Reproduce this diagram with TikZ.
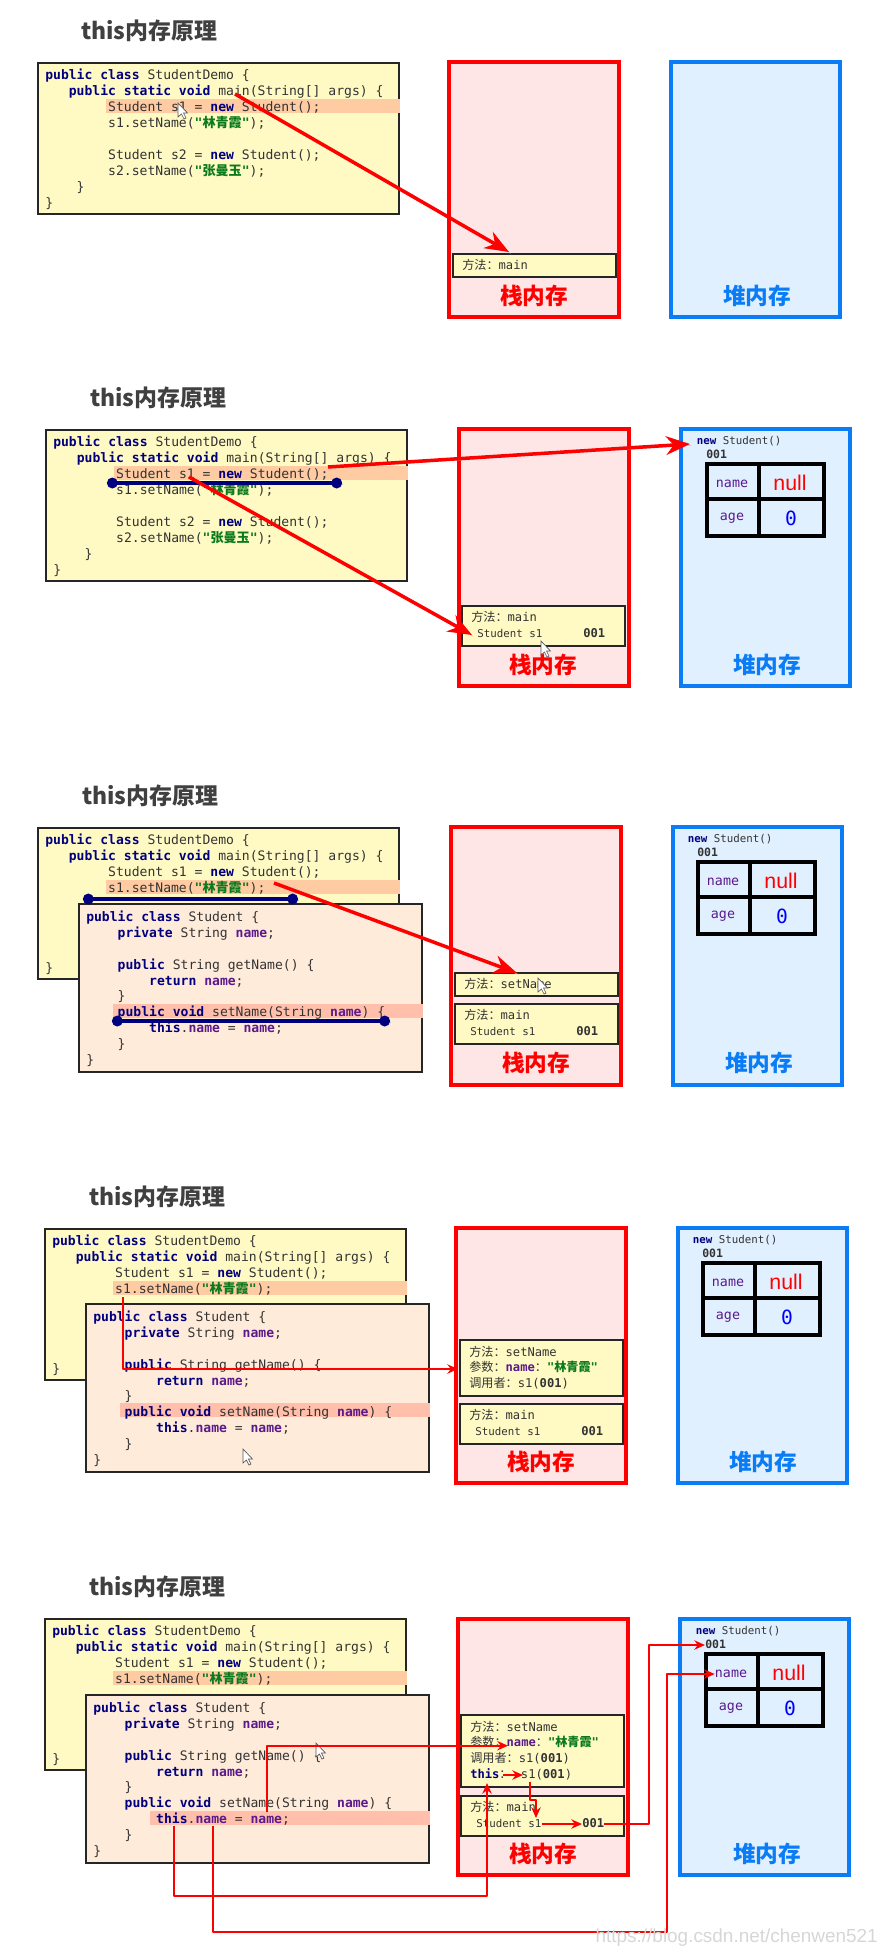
\documentclass[tikz,border=0pt]{standalone}
\usepackage{fontspec}
\usepackage{tikz}
\usetikzlibrary{arrows.meta}
\setmonofont{DejaVu Sans Mono}
\newfontfamily\cjkfont{Noto Sans CJK SC}
\newfontfamily\labelfont{Liberation Sans}
\definecolor{codeyellow}{HTML}{FFFAC4}
\definecolor{codepeach}{HTML}{FFEBDA}
\definecolor{hlorange}{HTML}{FFCBA2}
\definecolor{hlpink}{HTML}{FFBFAA}
\definecolor{stackfill}{HTML}{FFE6E6}
\definecolor{heapfill}{HTML}{E1F0FF}
\definecolor{heapblue}{HTML}{0A7CF5}
\definecolor{kwnavy}{HTML}{00007F}
\definecolor{fieldpurple}{HTML}{5A1A8C}
\definecolor{strgreen}{HTML}{0B7A1E}
\newcommand{\px}{0.75pt}
\newlength{\cw}
\setlength{\cw}{5.9pt}
\newcommand{\ind}[1]{\hspace*{#1\cw}}
\newcommand{\kwd}[1]{\textcolor{kwnavy}{\textbf{#1}}}
\newcommand{\fld}[1]{\textcolor{fieldpurple}{\textbf{#1}}}
\newcommand{\strg}[1]{\textcolor{strgreen}{\textbf{"{\cjkfont #1}"}}}
\newcommand{\fwcolon}{{\cjkfont\symbol{"FF1A}}}
\newcommand{\democode}{\strut\kwd{public class} StudentDemo \{\\
\ind{3}\kwd{public static void} main(String[] args) \{\\
\ind{8}Student s1 = \kwd{new} Student();\\
\ind{8}s1.setName(\strg{林青霞});\\
\mbox{}\\
\ind{8}Student s2 = \kwd{new} Student();\\
\ind{8}s2.setName(\strg{张曼玉});\\
\ind{4}\}\\
\}}
\newcommand{\demofront}{\strut\kwd{public class} StudentDemo \{\\
\ind{3}\kwd{public static void} main(String[] args) \{\\
\ind{8}Student s1 = \kwd{new} Student();\\
\ind{8}s1.setName(\strg{林青霞});\\
\mbox{}\\
\mbox{}\\
\mbox{}\\
\mbox{}\\
\}}
\newcommand{\studentcode}{\strut\kwd{public class} Student \{\\
\ind{4}\kwd{private} String \fld{name};\\
\mbox{}\\
\ind{4}\kwd{public} String getName() \{\\
\ind{8}\kwd{return} \fld{name};\\
\ind{4}\}\\
\ind{4}\kwd{public void} setName(String \fld{name}) \{\\
\ind{8}\kwd{this}.\fld{name} = \fld{name};\\
\ind{4}\}\\
\}}
\tikzset{
	pics/demo/.style={code={
		\node[boxbase, fill=codeyellow, minimum width=361*\px, minimum height=151*\px] (-box) at (0,0) {};
		\node[hlbar, fill=hlorange, minimum width=294*\px] (-hl) at (69,37) {};
		\node[codetext] (-code) at (8,6.4) {\democode};
	}},
	pics/demoback/.style={code={
		\node[boxbase, fill=codeyellow, minimum width=361*\px, minimum height=151*\px] (-box) at (0,0) {};
		\node[hlbar, fill=hlorange, minimum width=294*\px] (-hl) at (69,53) {};
		\node[codetext] (-code) at (8,6.4) {\demofront};
	}},
	pics/student/.style 2 args={code={
		\node[boxbase, fill=codepeach, minimum width=343*\px, minimum height=168*\px] (-box) at (0,0) {};
		\node[hlbar, fill=hlpink, minimum width=(345-#1)*\px] (-hl) at (#1,#2) {};
		\node[codetext] (-code) at (8,7) {\studentcode};
	}},
	pics/studentobj/.style={code={
		\node[memrow, font=\ttfamily\fontsize{8.1}{10}\selectfont] (-new) at (15.6,14) {\kwd{new} Student()};
		\node[memrow, font=\ttfamily\bfseries\fontsize{8.6}{10}\selectfont] (-id) at (25,28) {001};
		\node[anchor=north west, draw, line width=3.5*\px, inner sep=0pt, minimum width=117*\px, minimum height=72*\px] (-tab) at (24,35) {};
		\draw[line width=3.5*\px] (78,35) -- (78,110);
		\draw[line width=3.5*\px] (24,72) -- (144,72);
		\node[cellname] (-name) at (51,57) {name};
		\node[cellname] (-age) at (51,91) {age};
		\node[inner sep=0pt, red, font=\labelfont\fontsize{16}{18}\selectfont] (-null) at (109,56) {null};
		\node[inner sep=0pt, blue, font=\ttfamily\fontsize{14.7}{16}\selectfont] (-zero) at (110,91) {0};
	}},
	pics/mainframe/.style={code={
		\node[framebox, minimum height=40*\px] (-box) at (0,0) {};
		\node[memrow] (-m) at (10,13) {{\cjkfont 方法}\fwcolon main};
		\node[memrow, font=\ttfamily\fontsize{8.1}{10}\selectfont] (-s1) at (16,29) {Student s1};
		\node[memrow, font=\ttfamily\bfseries\fontsize{9.1}{10}\selectfont] (-id) at (122,29) {001};
	}},
	pics/cursor/.style={code={
		\draw[black!65, fill=white, line width=0.5pt] (0,0) -- (0,14) -- (3.5,11) -- (6,16) -- (8,15) -- (5.5,10) -- (9.5,10) -- cycle;
	}}
}
\begin{document}
\begin{tikzpicture}[x=0.75pt, y=-0.75pt,
	boxbase/.style={draw=black!85, line width=2*\px, anchor=north west, inner sep=0pt},
	hlbar/.style={anchor=north west, inner sep=0pt, outer sep=0pt, minimum height=14*\px},
	codetext/.style={anchor=north west, inner sep=0pt, align=left, text=black!80, font=\ttfamily\fontsize{9.8}{11.93}\selectfont},
	stackbox/.style={draw=red, fill=stackfill, line width=4*\px, anchor=north west, inner sep=0pt, minimum width=170*\px},
	heapbox/.style={draw=heapblue, fill=heapfill, line width=4*\px, anchor=north west, inner sep=0pt, minimum width=169*\px},
	framebox/.style={draw=black!85, fill=codeyellow, line width=2*\px, anchor=north west, inner sep=0pt, minimum width=163*\px},
	memrow/.style={anchor=west, inner sep=0pt, text=black!80, text height=7pt, text depth=2pt, font=\ttfamily\fontsize{9.1}{11}\selectfont},
	cellname/.style={inner sep=0pt, text=fieldpurple, font=\ttfamily\fontsize{10}{12}\selectfont},
	pagetitle/.style={anchor=west, inner sep=0pt, text=black!75, font=\cjkfont\bfseries\fontsize{17.2}{20}\selectfont},
	memlabel/.style={inner sep=0pt, font=\cjkfont\bfseries\fontsize{17}{20}\selectfont},
	fatarrow/.style={draw=red, line width=3.5*\px, -{Stealth[length=18pt,width=14pt]}, preaction={draw=black!22, -, transform canvas={shift={(1pt,-1pt)}}}},
	blueline/.style={draw=kwnavy, line width=4*\px, {Circle[length=8pt]}-{Circle[length=8pt]}, preaction={draw=black!22, -, transform canvas={shift={(1pt,-1pt)}}}},
	wire/.style={draw=red, line width=2*\px, line join=round},
	wirearrow/.style={wire, -{Stealth[length=8pt,width=7pt]}}]
	\useasboundingbox (0,0) rectangle (886,1956);

	% first step
	\node[pagetitle] (title1) at (81,31) {this内存原理};
	\pic (demo1) at (37,62) {demo};
	\node[stackbox, minimum height=255*\px] (stack1) at (447,60) {};
	\node[heapbox, minimum height=255*\px] (heap1) at (669,60) {};
	\node[framebox, minimum height=23*\px] (main1) at (452,253) {};
	\node[memrow] (main1m) at (462,266) {{\cjkfont 方法}\fwcolon main};
	\node[memlabel, red] (stackname1) at (534,296) {栈内存};
	\node[memlabel, heapblue] (heapname1) at (757,296) {堆内存};
	\pic at (178,103) {cursor};
	\coordinate (p1a) at (235,94);
	\coordinate (p1b) at (509,252);
	\draw[fatarrow] (p1a) -- (p1b);

	% second step
	\node[pagetitle] (title2) at (90,398) {this内存原理};
	\pic (demo2) at (45,429) {demo};
	\node[stackbox, minimum height=257*\px] (stack2) at (457,427) {};
	\node[heapbox, minimum height=257*\px] (heap2) at (679,427) {};
	\pic (obj2) at (681,427) {studentobj};
	\pic (main2) at (461,605) {mainframe};
	\node[memlabel, red] (stackname2) at (543,665) {栈内存};
	\node[memlabel, heapblue] (heapname2) at (767,665) {堆内存};
	\pic at (541,641) {cursor};
	\coordinate (p2a) at (107,483);
	\coordinate (p2b) at (342,483);
	\coordinate (p2c) at (328,467);
	\coordinate (p2d) at (690,444);
	\coordinate (p2e) at (189,477);
	\coordinate (p2f) at (472,635);
	\draw[blueline] (p2a) -- (p2b);
	\draw[fatarrow] (p2c) -- (p2d);
	\draw[fatarrow] (p2e) -- (p2f);

	% third step
	\node[pagetitle] (title3) at (82,796) {this内存原理};
	\pic (demo3) at (37,827) {demoback};
	\coordinate (p3a) at (83,899);
	\coordinate (p3b) at (298,899);
	\pic (student3) at (78,903) {student={35}{101}};
	\draw[blueline] (p3a) -- (p3b);
	\node[stackbox, minimum height=258*\px] (stack3) at (449,825) {};
	\node[heapbox, minimum height=258*\px] (heap3) at (671,825) {};
	\pic (obj3) at (672,825) {studentobj};
	\node[framebox, minimum height=23*\px] (setname3) at (454,972) {};
	\node[memrow] (setname3m) at (464,985) {{\cjkfont 方法}\fwcolon setName};
	\pic (main3) at (454,1003) {mainframe};
	\node[memlabel, red] (stackname3) at (536,1063) {栈内存};
	\node[memlabel, heapblue] (heapname3) at (759,1063) {堆内存};
	\pic at (538,978) {cursor};
	\coordinate (p3c) at (112,1021);
	\coordinate (p3d) at (390,1021);
	\coordinate (p3e) at (274,883);
	\coordinate (p3f) at (517,973);
	\draw[blueline] (p3c) -- (p3d);
	\draw[fatarrow] (p3e) -- (p3f);

	% fourth step
	\node[pagetitle] (title4) at (89,1197) {this内存原理};
	\pic (demo4) at (44,1228) {demoback};
	\pic (student4) at (85,1303) {student={35}{100}};
	\node[stackbox, minimum height=255*\px] (stack4) at (454,1226) {};
	\node[heapbox, minimum height=255*\px] (heap4) at (676,1226) {};
	\pic (obj4) at (677,1226) {studentobj};
	\node[framebox, minimum height=56*\px] (setname4) at (459,1339) {};
	\node[memrow] (setname4m) at (469,1353) {{\cjkfont 方法}\fwcolon setName};
	\node[memrow] (setname4p) at (469,1368) {{\cjkfont 参数}\fwcolon\fld{name}\fwcolon\strg{林青霞}};
	\node[memrow] (setname4c) at (469,1384) {{\cjkfont 调用者}\fwcolon s1(\textbf{001})};
	\pic (main4) at (459,1403) {mainframe};
	\node[memlabel, red] (stackname4) at (541,1462) {栈内存};
	\node[memlabel, heapblue] (heapname4) at (763,1462) {堆内存};
	\pic at (243,1449) {cursor};
	\coordinate (p4a) at (123,1297);
	\coordinate (p4b) at (458,1369);
	\draw[wirearrow] (p4a) |- (p4b);

	% fifth step
	\node[pagetitle] (title5) at (89,1587) {this内存原理};
	\pic (demo5) at (44,1618) {demoback};
	\pic (student5) at (85,1694) {student={65}{117}};
	\node[stackbox, minimum height=256*\px] (stack5) at (456,1617) {};
	\node[heapbox, minimum height=256*\px] (heap5) at (678,1617) {};
	\pic (obj5) at (680,1617) {studentobj};
	\node[framebox, minimum height=72*\px] (setname5) at (460,1714) {};
	\node[memrow] (setname5m) at (470,1728) {{\cjkfont 方法}\fwcolon setName};
	\node[memrow] (setname5p) at (470,1743) {{\cjkfont 参数}\fwcolon\fld{name}\fwcolon\strg{林青霞}};
	\node[memrow] (setname5c) at (470,1759) {{\cjkfont 调用者}\fwcolon s1(\textbf{001})};
	\node[memrow] (setname5t) at (470,1775) {\kwd{this}\fwcolon\hspace{7pt}s1(\textbf{001})};
	\pic (main5) at (460,1795) {mainframe};
	\node[memlabel, red] (stackname5) at (543,1854) {栈内存};
	\node[memlabel, heapblue] (heapname5) at (767,1854) {堆内存};
	\pic at (316,1743) {cursor};
	\coordinate (p5a) at (267,1812);
	\coordinate (p5b) at (508,1745.7);
	\coordinate (p5c) at (174,1826);
	\coordinate (p5d) at (487,1896);
	\coordinate (p5e) at (487,1783);
	\coordinate (p5f) at (213,1826);
	\coordinate (p5g) at (667,1932);
	\coordinate (p5h) at (503,1775);
	\coordinate (p5i) at (523,1775);
	\coordinate (p5j) at (530,1782);
	\coordinate (p5k) at (530,1800);
	\coordinate (p5l) at (536,1800);
	\coordinate (p5m) at (536,1818);
	\coordinate (p5n) at (649,1750);
	\draw[wirearrow] (p5a) |- (p5b);
	\draw[wirearrow] (p5c) |- (p5d) -- (p5e);
	\draw[wirearrow] (p5f) |- (p5g) |- (obj5-name.west);
	\draw[wirearrow] (p5h) -- (p5i);
	\draw[wirearrow] (p5j) -- (p5k) -- (p5l) -- (p5m);
	\draw[wirearrow] (main5-s1.east) -- (main5-id.west);
	\draw[wirearrow] (main5-id.east) -| (p5n) |- (obj5-id.west);

	\node[inner sep=0pt, text=black!16, anchor=east, font=\labelfont\fontsize{14.2}{16}\selectfont] (mark) at (878,1938) {https://blog.csdn.net/chenwen521};
\end{tikzpicture}
\end{document}
